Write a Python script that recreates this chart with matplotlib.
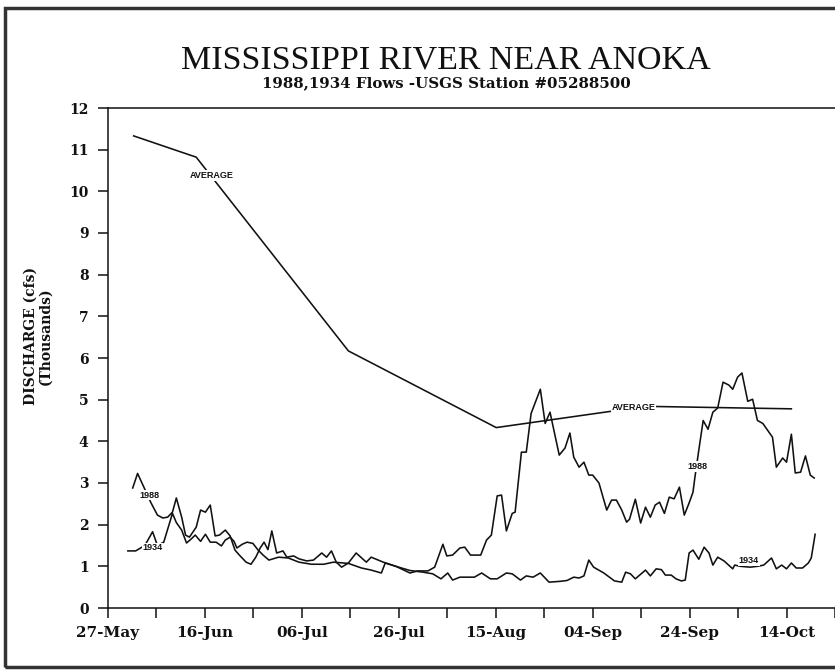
import matplotlib.pyplot as plt
from matplotlib.patches import Rectangle

# days counted from 27-May
tick_days = list(range(0, 160, 10))
date_labels = ['27-May', '16-Jun', '06-Jul', '26-Jul', '15-Aug', '04-Sep', '24-Sep', '14-Oct']
y_ticks = list(range(0, 13))

avg_days = [5.3, 18.2, 49.6, 80.1, 111.0, 141.0]
avg_flow = [11.33, 10.82, 6.17, 4.33, 4.84, 4.78]

days_1988 = [5.1, 6.1, 7.4, 8.8, 10.2, 11.3, 12.3, 13.3, 14.1, 15.2, 16.0, 16.8, 18.2, 19.1,
             20.1, 21.1, 22.1, 23.0, 24.2, 25.2, 26.2, 27.1, 28.5, 29.5, 30.5, 31.4, 32.2,
             33.0, 33.8, 34.8, 36.1, 36.9, 38.3, 39.4, 41.0, 42.4, 44.1, 45.1, 46.1, 47.1,
             48.2, 49.6, 51.2, 53.3, 54.3, 56.8, 59.4, 62.3, 63.9, 66.0, 67.4, 69.1, 69.9,
             71.1, 72.6, 73.6, 74.8, 76.9, 78.1, 79.1, 80.3, 81.2, 82.2, 83.4, 84.0, 85.3,
             86.3, 87.3, 89.2, 90.2, 91.2, 93.1, 94.3, 95.3, 96.1, 97.2, 98.2, 99.2, 100.0,
             101.3, 102.9, 103.9, 104.9, 106.0, 107.0, 107.6, 108.8, 109.9, 110.9, 111.9,
             112.9, 113.8, 114.8, 115.8, 116.8, 117.9, 118.9, 119.9, 120.7, 121.1, 121.9,
             122.8, 123.8, 124.8, 125.8, 126.9, 128.1, 128.9, 129.9, 130.8, 132.0, 133.0,
             134.0, 135.1, 137.1, 137.9, 139.2, 140.0, 141.0, 141.8, 142.9, 143.9, 144.9,
             145.7]
flow_1988 = [2.88, 3.23, 2.90, 2.54, 2.23, 2.16, 2.18, 2.30, 2.64, 2.18, 1.75, 1.70, 1.94, 2.35,
             2.30, 2.47, 1.73, 1.75, 1.87, 1.73, 1.39, 1.27, 1.10, 1.05, 1.22, 1.44, 1.58,
             1.40, 1.85, 1.32, 1.37, 1.22, 1.25, 1.18, 1.13, 1.15, 1.32, 1.22, 1.37, 1.10,
             0.98, 1.08, 1.32, 1.10, 1.22, 1.10, 1.00, 0.84, 0.89, 0.89, 0.98, 1.53, 1.25,
             1.27, 1.44, 1.46, 1.27, 1.27, 1.63, 1.75, 2.69, 2.71, 1.85, 2.27, 2.30, 3.74,
             3.74, 4.67, 5.25, 4.43, 4.70, 3.67, 3.84, 4.20, 3.62, 3.38, 3.50, 3.19, 3.19,
             3.00, 2.35, 2.59, 2.59, 2.35, 2.06, 2.13, 2.61, 2.04, 2.42, 2.18,
             2.47, 2.54, 2.27, 2.66, 2.62, 2.90, 2.23, 2.52, 2.78, 3.14, 3.79,
             4.50, 4.29, 4.70, 4.80, 5.42, 5.35, 5.25, 5.54, 5.64, 4.96, 5.01,
             4.50, 4.43, 4.10, 3.38, 3.60, 3.50, 4.17, 3.24, 3.26, 3.65, 3.19,
             3.12]

days_1934 = [4.1, 5.7, 7.6, 9.2, 10.2, 11.5, 13.3, 14.1, 15.2, 16.2, 17.2, 18.0, 19.1, 20.1,
             21.1, 22.3, 23.4, 24.2, 25.2, 26.0, 26.6, 27.7, 28.7, 29.9, 30.9, 32.0, 33.2,
             35.2, 37.2, 39.4, 42.0, 44.5, 46.5, 49.6, 52.3, 54.3, 56.4, 57.2, 59.4, 62.3,
             65.0, 67.0, 68.7, 70.1, 71.1, 72.6, 75.6, 77.1, 78.9, 80.3, 82.2, 83.4, 85.1,
             86.3, 87.7, 89.2, 91.0, 93.3, 94.7, 96.1, 97.2, 98.2, 99.2, 100.2, 102.3, 104.5,
             106.0, 106.8, 107.8, 108.8, 110.9, 111.9, 113.1, 114.2, 115.0, 116.2, 117.2,
             118.3, 119.1, 119.9, 120.7, 121.9, 123.0, 124.0, 124.8, 125.8, 127.1, 128.9,
             129.3, 130.5, 132.5, 134.0, 135.3, 136.9, 137.9, 139.0, 140.0, 141.0, 142.0,
             143.3, 144.5, 145.1, 145.9]
flow_1934 = [1.37, 1.37, 1.50, 1.83, 1.50, 1.58, 2.27, 2.05, 1.87, 1.56, 1.66, 1.75, 1.60, 1.77,
             1.58, 1.58, 1.49, 1.63, 1.70, 1.60, 1.44, 1.53, 1.58, 1.55, 1.40, 1.27, 1.15,
             1.22, 1.20, 1.10, 1.05, 1.05, 1.10, 1.07, 0.96, 0.91, 0.84, 1.08, 1.00, 0.90,
             0.86, 0.82, 0.70, 0.84, 0.67, 0.74, 0.74, 0.84, 0.70, 0.70, 0.84, 0.82, 0.67,
             0.77, 0.74, 0.84, 0.62, 0.64, 0.66, 0.74, 0.72, 0.77, 1.15, 0.98, 0.84, 0.65,
             0.62, 0.86, 0.82, 0.70, 0.91, 0.77, 0.94, 0.92, 0.79, 0.79, 0.70,
             0.65, 0.67, 1.32, 1.39, 1.17, 1.46, 1.32, 1.03, 1.22, 1.13, 0.94,
             1.03, 1.00, 0.98, 1.00, 1.03, 1.20, 0.94, 1.03, 0.94, 1.08, 0.96,
             0.96, 1.08, 1.20, 1.77]

ink = '#111111'
serif_bold = dict(family='DejaVu Serif', weight='bold')

fig = plt.figure(figsize=(8.35, 6.7), dpi=100)
ax = fig.add_axes([108 / 835, 62 / 670, 1 - 108 / 835, 500 / 670])

ax.plot(avg_days, avg_flow, color=ink, lw=1.15)
ax.plot(days_1988, flow_1988, color=ink, lw=1.15)
ax.plot(days_1934, flow_1934, color=ink, lw=1.15)

# line labels sitting on the curves
lab = dict(fontsize=6.5, weight='bold', family='Liberation Sans', ha='center', va='center',
           bbox=dict(fc='white', ec='none', pad=0.6), zorder=5, color=ink)
ax.text(21.3, 10.38, 'AVERAGE', **lab)
ax.text(108.4, 4.80, 'AVERAGE', **lab)
ax.text(8.6, 2.71, '1988', **lab)
ax.text(9.2, 1.44, '1934', **lab)
ax.text(121.7, 3.40, '1988', **lab)
ax.text(132.2, 1.13, '1934', **lab)

ax.set_xlim(0, 149)
ax.set_ylim(0, 12)
ax.set_xticks(tick_days)
ax.set_xticklabels([date_labels[i // 2] if i % 2 == 0 and i // 2 < len(date_labels) else ''
                    for i in range(len(tick_days))], fontsize=11, **serif_bold)
ax.set_yticks(y_ticks)
ax.set_yticklabels([str(v) for v in y_ticks], fontsize=10, **serif_bold)
ax.tick_params(direction='out', length=7, width=1.1, color=ink, labelcolor=ink)
ax.tick_params(axis='x', pad=6)
ax.tick_params(axis='y', pad=7)
ax.spines['right'].set_visible(False)
for s in ['left', 'bottom', 'top']:
    ax.spines[s].set_linewidth(1.1)
    ax.spines[s].set_color(ink)

fig.text(446 / 835, 1 - 60 / 670, 'MISSISSIPPI RIVER NEAR ANOKA', family='Liberation Serif',
         fontsize=24.5, ha='center', va='center', color=ink)
fig.text(446 / 835, 1 - 83 / 670, '1988,1934 Flows -USGS Station #05288500', fontsize=10.8,
         ha='center', va='center', color=ink, **serif_bold)
fig.text(38 / 835, 1 - 336 / 670, 'DISCHARGE (cfs)\n(Thousands)', rotation=90, fontsize=10,
         ha='center', va='center', linespacing=1.1, color=ink, **serif_bold)

# outer frame (right side runs off the page, as in the scan)
fig.add_artist(Rectangle((5 / 835, 3 / 670), 1.2, 659 / 670, transform=fig.transFigure,
                         fill=False, lw=2.5, ec='#333333'))

fig.savefig('out.png', dpi=100)
